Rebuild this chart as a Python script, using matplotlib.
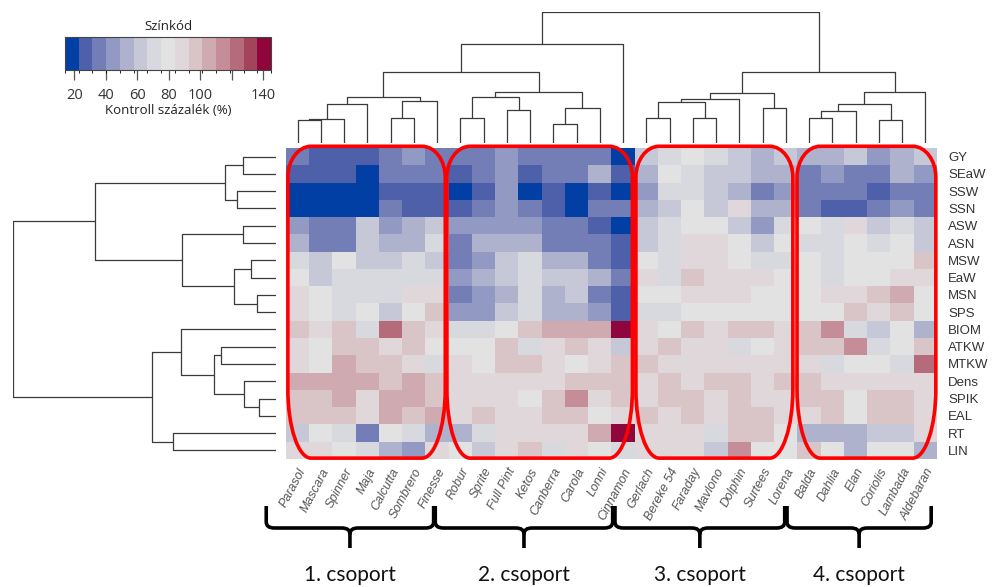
#!/usr/bin/env python3
"""
Clustered heatmap of trait values (percent of control) for 28 cultivars,
with row / column dendrograms, group outlines and group braces.
"""

import matplotlib
matplotlib.use("Agg")
import matplotlib.pyplot as plt
import numpy as np
from matplotlib.colors import BoundaryNorm, ListedColormap
from matplotlib.colorbar import ColorbarBase
from matplotlib.patches import PathPatch
from matplotlib.path import Path

plt.rcParams["font.family"] = ["Liberation Sans", "DejaVu Sans"]

# ---------------------------------------------------------------- data
cultivars = ["Parasol", "Mascara", "Spinner", "Maja", "Calcutta", "Sombrero",
             "Finesse", "Robur", "Sprite", "Full Pint", "Ketos", "Canberra",
             "Carola", "Lonni", "Cinnamon", "Gerlach", "Bereke 54", "Faraday",
             "Mavlono", "Dolphin", "Surtees", "Lorena", "Balda", "Dahlia",
             "Elan", "Coriolis", "Lambada", "Aldebaran"]

traits = ["GY", "SEaW", "SSW", "SSN", "ASW", "ASN", "MSW", "EaW", "MSN", "SPS",
          "BIOM", "ATKW", "MTKW", "Dens", "SPIK", "EAL", "RT", "LIN"]

# control percent, rows = traits, columns = cultivars
pct = [
    [36, 27, 27, 27, 36, 45, 36, 36, 36, 45, 36, 36, 36, 36, 18, 62, 71, 79, 71, 62, 53, 62, 53, 53, 62, 45, 53, 62],
    [27, 27, 27, 18, 36, 36, 36, 27, 36, 45, 27, 36, 36, 53, 27, 53, 79, 71, 62, 62, 53, 53, 36, 45, 36, 36, 53, 45],
    [18, 18, 18, 18, 27, 27, 27, 18, 27, 45, 18, 27, 18, 27, 18, 45, 71, 71, 62, 53, 36, 45, 36, 36, 36, 27, 36, 36],
    [18, 18, 18, 18, 36, 27, 27, 27, 36, 45, 36, 27, 18, 36, 36, 53, 62, 79, 62, 88, 53, 53, 36, 27, 27, 36, 45, 36],
    [45, 36, 36, 62, 45, 53, 62, 45, 45, 45, 45, 36, 36, 27, 18, 62, 71, 79, 79, 62, 45, 71, 79, 71, 88, 62, 71, 62],
    [53, 36, 36, 62, 53, 53, 71, 36, 53, 53, 53, 36, 36, 36, 27, 62, 71, 88, 88, 79, 62, 79, 71, 71, 79, 71, 79, 62],
    [71, 62, 79, 62, 62, 71, 62, 36, 45, 62, 71, 53, 53, 36, 27, 79, 71, 88, 88, 79, 71, 71, 79, 71, 79, 79, 79, 97],
    [79, 62, 71, 71, 71, 71, 71, 45, 53, 62, 71, 62, 62, 53, 36, 88, 71, 97, 88, 88, 88, 79, 79, 71, 79, 79, 88, 88],
    [88, 79, 71, 71, 71, 88, 88, 36, 45, 53, 71, 53, 62, 36, 27, 79, 79, 88, 88, 88, 79, 79, 79, 88, 88, 97, 106, 79],
    [88, 79, 71, 79, 62, 79, 97, 45, 45, 62, 71, 53, 53, 45, 27, 71, 71, 79, 79, 79, 79, 79, 79, 79, 97, 88, 97, 79],
    [97, 88, 97, 71, 123, 97, 88, 71, 71, 79, 97, 106, 106, 106, 141, 88, 79, 97, 88, 97, 97, 88, 97, 114, 71, 62, 79, 53],
    [88, 79, 97, 97, 88, 97, 79, 79, 79, 97, 71, 88, 97, 88, 62, 88, 97, 88, 88, 71, 79, 88, 97, 97, 114, 71, 79, 97],
    [88, 79, 106, 97, 97, 88, 71, 88, 79, 97, 97, 88, 79, 88, 97, 97, 88, 88, 88, 88, 88, 88, 88, 71, 79, 79, 71, 123],
    [106, 106, 106, 106, 97, 106, 97, 88, 88, 88, 88, 88, 97, 97, 97, 88, 97, 88, 97, 97, 88, 97, 97, 88, 88, 88, 88, 88],
    [97, 97, 106, 88, 106, 106, 97, 88, 88, 88, 79, 97, 114, 88, 97, 88, 97, 97, 88, 97, 88, 88, 97, 97, 79, 97, 97, 88],
    [97, 97, 97, 88, 106, 97, 106, 88, 97, 88, 88, 97, 97, 79, 88, 97, 88, 97, 88, 97, 97, 88, 88, 97, 79, 97, 97, 88],
    [62, 79, 71, 36, 79, 71, 53, 53, 71, 88, 88, 88, 88, 106, 141, 88, 88, 88, 71, 97, 97, 79, 53, 53, 53, 62, 62, 88],
    [88, 88, 79, 71, 53, 45, 88, 79, 62, 88, 97, 71, 88, 79, 71, 88, 88, 88, 62, 114, 79, 79, 97, 79, 53, 79, 79, 53],
]

# column dendrogram: (left, right, height); leaves 0..27, merges numbered from 28
col_merges = [
    (0, 1, 68), (28, 2, 72), (29, 3, 118), (4, 5, 76), (31, 6, 127),
    (30, 32, 140), (7, 8, 76), (9, 10, 100), (34, 35, 140), (11, 12, 57),
    (37, 13, 105), (36, 38, 154), (33, 39, 215), (40, 14, 298), (15, 16, 74),
    (17, 18, 74), (42, 43, 125), (44, 19, 132), (20, 21, 105), (45, 46, 152),
    (22, 23, 75), (48, 24, 95), (25, 26, 68), (49, 50, 117), (51, 27, 154),
    (47, 52, 215), (41, 53, 395),
]

# row dendrogram: leaves 0..17, merges numbered from 18
row_merges = [
    (0, 1, 100), (2, 3, 118), (18, 19, 152), (4, 5, 100), (6, 7, 76),
    (8, 9, 58), (22, 23, 125), (21, 24, 281), (20, 25, 543), (11, 12, 166),
    (14, 15, 50), (13, 28, 95), (27, 29, 186), (10, 30, 286), (16, 17, 308),
    (31, 32, 372), (26, 33, 788),
]

group_labels = ["1. csoport", "2. csoport", "3. csoport", "4. csoport"]
group_spans = [(-0.85, 6.35), (6.42, 14.05), (14.15, 21.45), (21.55, 27.75)]
box_spans = [(0.08, 6.85), (6.92, 14.9), (15.05, 21.8), (21.98, 27.95)]

cbar_ticks = [20, 40, 60, 80, 100, 120, 140]
cbar_ticklabels = ["20", "40", "60", "80", "100", "", "140"]


def hcl_hex(L, C, H):
    """polarLUV -> sRGB hex (D65)."""
    Xn, Yn, Zn = 95.047, 100.0, 108.883
    h = np.deg2rad(H)
    U, V = C * np.cos(h), C * np.sin(h)
    Y = Yn * ((L + 16) / 116) ** 3 if L > 8 else Yn * L / 903.3
    t = Xn + 15 * Yn + 3 * Zn
    un, vn = 4 * Xn / t, 9 * Yn / t
    u = U / (13 * L) + un
    v = V / (13 * L) + vn
    X = Y * 9 * u / (4 * v)
    Z = Y * (12 - 3 * u - 20 * v) / (4 * v)
    M = np.array([[3.240479, -1.537150, -0.498535],
                  [-0.969256, 1.875992, 0.041556],
                  [0.055648, -0.204043, 1.057311]])
    rgb = M @ (np.array([X, Y, Z]) / 100)
    rgb = np.where(rgb <= 0.0031308, 12.92 * rgb, 1.055 * np.abs(rgb) ** (1 / 2.4) - 0.055)
    rgb = np.clip(rgb, 0, 1)
    return "#%02x%02x%02x" % tuple(int(round(c * 255)) for c in rgb)


def blue_red(n=15):
    """diverging HCL palette, blue (260) -> grey -> red (0)."""
    cols = []
    for i in np.linspace(1, -1, n):
        a = abs(i) ** 1.5
        cols.append(hcl_hex(90 - 60 * a, 80 * a, 260 if i > 0 else 0))
    return cols


def dendro_segments(merges, n):
    """Return (pos, height) lines for each merge, leaves at i + 0.5."""
    pos = {i: i + 0.5 for i in range(n)}
    hgt = {i: 0.0 for i in range(n)}
    segs = []
    for k, (a, b, h) in enumerate(merges):
        segs.append(([pos[a], pos[a], pos[b], pos[b]], [hgt[a], h, h, hgt[b]]))
        pos[n + k] = (pos[a] + pos[b]) / 2
        hgt[n + k] = h
    return segs


def box_path(x0, x1, y0, y1, rx, ryt, ryb):
    k = 0.5523
    verts = [
        (x0 + rx, y0), (x1 - rx, y0),
        (x1 - rx + k * rx, y0), (x1, y0 + ryt - k * ryt), (x1, y0 + ryt),
        (x1, y1 - ryb),
        (x1, y1 - ryb + k * ryb), (x1 - rx + k * rx, y1), (x1 - rx, y1),
        (x0 + rx, y1),
        (x0 + rx - k * rx, y1), (x0, y1 - ryb + k * ryb), (x0, y1 - ryb),
        (x0, y0 + ryt),
        (x0, y0 + ryt - k * ryt), (x0 + rx - k * rx, y0), (x0 + rx, y0),
    ]
    codes = [Path.MOVETO, Path.LINETO,
             Path.CURVE4, Path.CURVE4, Path.CURVE4,
             Path.LINETO,
             Path.CURVE4, Path.CURVE4, Path.CURVE4,
             Path.LINETO,
             Path.CURVE4, Path.CURVE4, Path.CURVE4,
             Path.LINETO,
             Path.CURVE4, Path.CURVE4, Path.CURVE4]
    return Path(verts, codes)


def brace_path(x0, x1, xm, y_top, y_mid, y_tip, r=0.35, ry=6):
    verts = [
        (x0, y_top), (x0, y_mid - ry), (x0, y_mid), (x0 + r, y_mid),
        (xm - r, y_mid), (xm, y_mid), (xm, y_mid + ry), (xm, y_tip),
        (xm, y_mid + ry), (xm, y_mid), (xm + r, y_mid),
        (x1 - r, y_mid), (x1, y_mid), (x1, y_mid - ry), (x1, y_top),
    ]
    codes = [Path.MOVETO, Path.LINETO, Path.CURVE3, Path.CURVE3,
             Path.LINETO, Path.CURVE3, Path.CURVE3, Path.LINETO,
             Path.MOVETO, Path.CURVE3, Path.CURVE3,
             Path.LINETO, Path.CURVE3, Path.CURVE3, Path.LINETO]
    return Path(verts, codes)


def main():
    W, H = 1004, 587
    fig = plt.figure(figsize=(W / 100, H / 100), dpi=100)

    def px_axes(x0, y0, x1, y1):
        return fig.add_axes([x0 / W, 1 - y1 / H, (x1 - x0) / W, (y1 - y0) / H])

    data = np.array(pct, dtype=float)
    n_rows, n_cols = data.shape
    bounds = np.linspace(14, 145, 16)
    cmap = ListedColormap(blue_red(15))
    norm = BoundaryNorm(bounds, cmap.N)

    # heatmap
    ax = px_axes(286, 148, 937, 459)
    ax.imshow(data, cmap=cmap, norm=norm, aspect="auto", interpolation="nearest",
              extent=(0, n_cols, n_rows, 0))
    ax.set_xlim(0, n_cols)
    ax.set_ylim(n_rows, 0)
    for s in ax.spines.values():
        s.set_visible(False)
    ax.yaxis.tick_right()
    ax.set_yticks(np.arange(n_rows) + 0.5)
    ax.set_yticklabels(traits, fontsize=9.5, color="#333333")
    ax.set_xticks(np.arange(n_cols) + 0.5)
    ax.set_xticklabels(cultivars, rotation=62, ha="right", rotation_mode="anchor",
                       fontsize=9, style="italic", color="#555555")
    ax.tick_params(length=0)
    ax.tick_params(axis="y", pad=8)
    ax.tick_params(axis="x", pad=5)

    # red group outlines
    for x0, x1 in box_spans:
        ax.add_patch(PathPatch(box_path(x0, x1, -0.1, 17.95, 1.0, 1.8, 4.0),
                               facecolor="none", edgecolor="#ff0000", lw=2.6,
                               clip_on=False, zorder=5))

    # column dendrogram
    axc = px_axes(286, 12, 937, 143)
    for xs, ys in dendro_segments(col_merges, n_cols):
        axc.plot(xs, ys, color="#3a3a3a", lw=0.9, solid_capstyle="butt")
    axc.set_xlim(0, n_cols)
    axc.set_ylim(0, 395)
    axc.axis("off")

    # row dendrogram
    axr = px_axes(13, 148, 276, 459)
    for ys, xs in dendro_segments(row_merges, n_rows):
        axr.plot(xs, ys, color="#3a3a3a", lw=0.9, solid_capstyle="butt")
    axr.set_xlim(788, 0)
    axr.set_ylim(n_rows, 0)
    axr.axis("off")

    # braces + group labels (y in pixels)
    axb = px_axes(286, 460, 937, 587)
    axb.set_xlim(0, n_cols)
    axb.set_ylim(587, 460)
    axb.axis("off")
    for (x0, x1), lab in zip(group_spans, group_labels):
        xm = (x0 + x1) / 2
        axb.add_patch(PathPatch(brace_path(x0, x1, xm, 506, 528, 548),
                                facecolor="none", edgecolor="black", lw=2.6,
                                clip_on=False, capstyle="butt"))
        axb.text(xm, 575, lab, ha="center", va="center", fontsize=15,
                 family=["Lato", "DejaVu Sans"], color="#111111", clip_on=False)

    # colour key
    cax = px_axes(65, 37, 271, 70)
    cb = ColorbarBase(cax, cmap=cmap, norm=norm, orientation="horizontal",
                      boundaries=bounds, ticks=cbar_ticks, spacing="proportional")
    cb.set_ticklabels(cbar_ticklabels)
    cb.outline.set_linewidth(0.8)
    cb.outline.set_edgecolor("#444444")
    cax.tick_params(length=7, width=0.9, color="#555555", labelsize=10.5,
                    labelcolor="#333333", pad=6)
    for t in cax.get_xticklabels():
        t.set_family(["Open Sans", "DejaVu Sans"])
    cax.set_xlabel("Kontroll százalék (%)", fontsize=9.5, labelpad=1,
                   family=["Open Sans", "DejaVu Sans"], color="#222222")
    cax.set_title("Színkód", fontsize=9.5, pad=5,
                  family=["Open Sans", "DejaVu Sans"], color="#222222")

    fig.savefig("out.png", dpi=100)
    plt.close(fig)


if __name__ == "__main__":
    main()
